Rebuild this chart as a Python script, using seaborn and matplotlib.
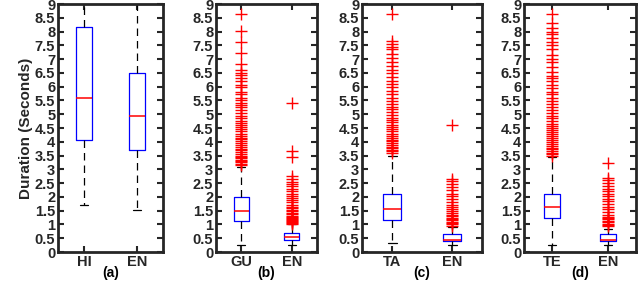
import numpy as np
import pandas as pd
import seaborn as sns
import matplotlib.pyplot as plt

# five-number summaries: low whisker, q1, median, q3, high whisker
panel_tags = ['(a)', '(b)', '(c)', '(d)']
native_langs = ['HI', 'GU', 'TA', 'TE']

native_stats = [
    [1.71, 4.06, 5.59, 8.18, 9.6],
    [0.26, 1.13, 1.47, 1.98, 3.1],
    [0.32, 1.16, 1.57, 2.12, 3.5],
    [0.25, 1.22, 1.63, 2.12, 3.45],
]
english_stats = [
    [1.51, 3.69, 4.93, 6.51, 9.6],
    [0.25, 0.42, 0.54, 0.68, 1.0],
    [0.25, 0.41, 0.44, 0.64, 0.9],
    [0.25, 0.41, 0.44, 0.64, 0.85],
]

# outliers (red crosses)
native_outliers = [
    [],
    [8.62, 8.02, 7.62, 7.22, 6.82, 6.62, 6.5, 6.42, 6.3, 6.2, 6.05, 5.98, 5.8,
     5.75, 5.6, 5.5, 5.42, 5.35, 5.25, 5.15, 5.05, 4.95, 4.85, 4.75, 4.68, 4.6,
     4.52, 4.45, 4.38, 4.3, 4.22, 4.15, 4.1, 4.02, 3.95, 3.88, 3.82, 3.75, 3.7,
     3.62, 3.55, 3.5, 3.45, 3.4, 3.35, 3.3, 3.25, 3.2, 3.15],
    [8.62, 7.65, 7.55, 7.45, 7.35, 7.2, 7.05, 6.9, 6.75, 6.62, 6.5, 6.35, 6.22,
     6.1, 5.98, 5.85, 5.72, 5.6, 5.48, 5.38, 5.28, 5.18, 5.08, 4.98, 4.88, 4.78,
     4.7, 4.6, 4.52, 4.45, 4.38, 4.3, 4.22, 4.15, 4.08, 4.02, 3.95, 3.88, 3.82,
     3.76, 3.7, 3.65, 3.6],
    [8.62, 8.3, 8.12, 8.0, 7.9, 7.75, 7.62, 7.5, 7.35, 7.15, 7.0, 6.9, 6.7,
     6.55, 6.4, 6.3, 6.2, 6.05, 5.95, 5.8, 5.72, 5.6, 5.48, 5.38, 5.28, 5.15,
     5.05, 4.95, 4.85, 4.75, 4.65, 4.58, 4.5, 4.42, 4.35, 4.28, 4.2, 4.12, 4.05,
     3.98, 3.92, 3.85, 3.78, 3.72, 3.65, 3.6, 3.55, 3.5],
]
english_outliers = [
    [],
    [5.42, 3.65, 3.45, 2.75, 2.65, 2.55, 2.45, 2.38, 2.28, 2.2, 2.1, 2.02, 1.95,
     1.88, 1.8, 1.72, 1.65, 1.58, 1.52, 1.48, 1.42, 1.38, 1.32, 1.28, 1.24, 1.2,
     1.16, 1.12, 1.08, 1.05, 1.02],
    [4.62, 2.65, 2.58, 2.45, 2.35, 2.25, 2.12, 2.02, 1.92, 1.82, 1.72, 1.62,
     1.55, 1.48, 1.4, 1.35, 1.3, 1.25, 1.2, 1.15, 1.1, 1.05, 1.0, 0.95],
    [3.22, 2.7, 2.6, 2.5, 2.4, 2.3, 2.2, 2.12, 2.02, 1.92, 1.85, 1.75, 1.65,
     1.55, 1.45, 1.35, 1.28, 1.22, 1.18, 1.12, 1.08, 1.02, 0.98, 0.94],
]

yticks = np.arange(0, 9.01, 0.5)
txt = '#262626'

sns.set_style('ticks')
plt.rcParams['font.family'] = ['Liberation Sans', 'DejaVu Sans']
plt.rcParams['font.weight'] = 'bold'

fig = plt.figure(figsize=(6.38, 2.84), dpi=100)

# axes boxes in pixels (left, right)
px_lr = [(58, 163), (216, 317), (362, 482), (524, 636)]
top_px, bot_px = 4, 252

for i in range(4):
    l, r = px_lr[i]
    ax = fig.add_axes([l / 638, 1 - bot_px / 284, (r - l) / 638, (bot_px - top_px) / 284])
    order = [native_langs[i], 'EN']

    box_df = pd.DataFrame({
        'lang': [native_langs[i]] * 5 + ['EN'] * 5,
        'dur': native_stats[i] + english_stats[i],
    })
    out_df = pd.DataFrame({
        'lang': [native_langs[i]] * len(native_outliers[i]) + ['EN'] * len(english_outliers[i]),
        'dur': native_outliers[i] + english_outliers[i],
    })

    sns.boxplot(data=box_df, x='lang', y='dur', order=order, ax=ax,
                whis=(0, 100), width=0.3, fill=False, linewidth=0.9,
                boxprops={'color': 'blue'},
                medianprops={'color': 'red', 'linewidth': 1.1},
                whiskerprops={'color': 'black', 'linestyle': (0, (6, 4))},
                capprops={'color': 'black'})
    if len(out_df):
        sns.stripplot(data=out_df, x='lang', y='dur', order=order, ax=ax,
                      jitter=False, marker='+', color='red', size=8,
                      linewidth=1.0)

    ax.set_xlim(-0.5, 1.5)
    ax.set_ylim(0, 9)
    ax.set_yticks(yticks)
    ax.set_yticklabels([f'{v:g}' for v in yticks], fontsize=10.5,
                       fontweight='bold', color=txt)
    ax.set_xticks([0, 1])
    ax.set_xticklabels(order, fontsize=10.5, fontweight='bold', color=txt)
    ax.set_xlabel(panel_tags[i], fontsize=10, fontweight='bold', labelpad=-2,
                  color='black')
    ax.set_ylabel('Duration (Seconds)' if i == 0 else '', fontsize=11,
                  fontweight='bold', labelpad=1, color=txt)
    ax.tick_params(direction='in', top=True, right=True, length=4, width=1.5,
                   pad=2, color=txt)
    for s in ax.spines.values():
        s.set_visible(True)
        s.set_linewidth(2)
        s.set_color(txt)

fig.savefig('out.png', dpi=100)
